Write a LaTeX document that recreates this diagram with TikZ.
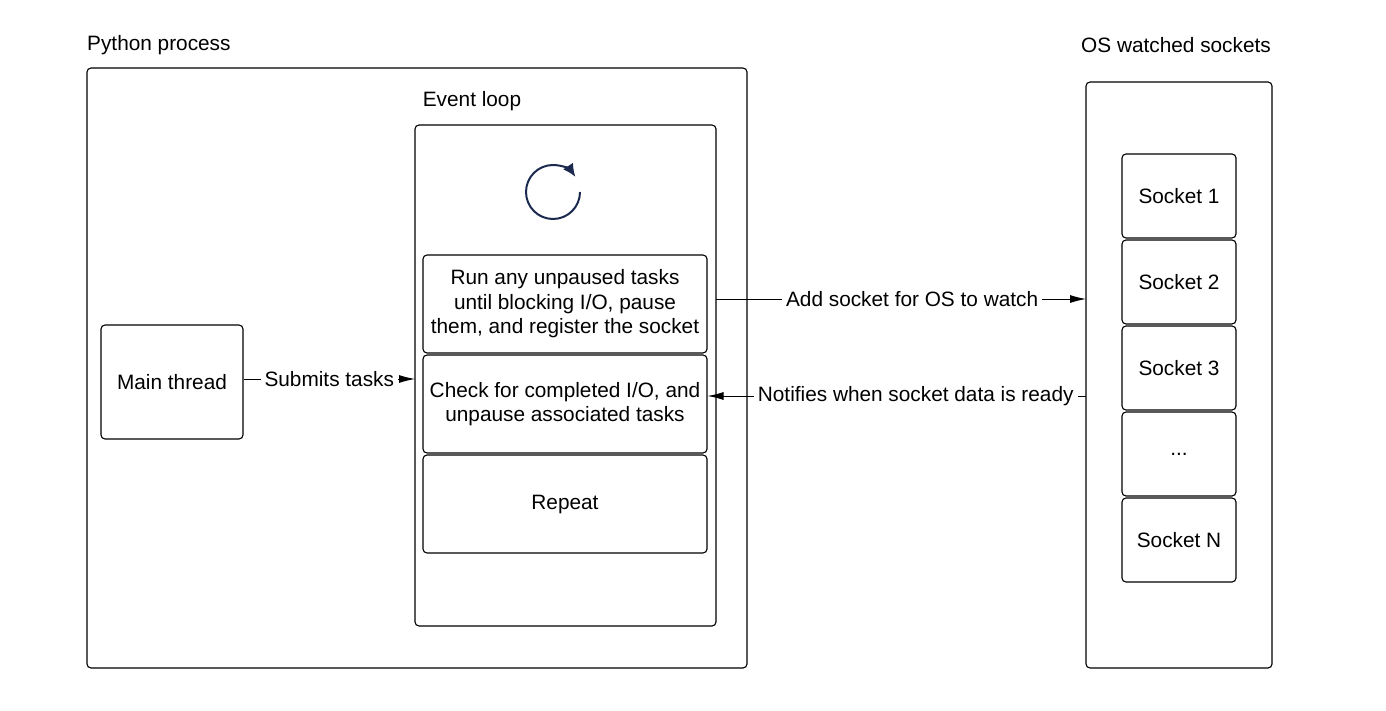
\documentclass[tikz,border=0pt]{standalone}
\usepackage{fontspec}
\setmainfont{Liberation Sans}
\usetikzlibrary{arrows.meta}
\definecolor{navy}{HTML}{1B2A4E}
\begin{document}
\begin{tikzpicture}[x=1pt,y=-1pt,
  every node/.style={font=\fontsize{20.8}{24.5}\selectfont},
  box/.style={draw, line width=1.1pt, rounded corners=4pt, inner sep=0pt},
  lbl/.style={fill=white, inner xsep=4pt, inner ysep=2pt},
  arr/.style={-{Latex[length=16pt,width=8pt]}, line width=0.9pt}]
\useasboundingbox (0,0) rectangle (1386,711);
% outer containers
\draw[box] (87,68) rectangle (747,668);
\node[anchor=west, inner xsep=0pt] (pylbl) at (87,45) {Python process};
\draw[box] (415,125) rectangle (716,626);
\node (evlbl) at (472,101) {Event loop};
\draw[box] (1086,82) rectangle (1272,668);
\node (oslbl) at (1176,45) {OS watched sockets};
% loop icon
\draw[navy, line width=2pt, -{Latex[length=13pt,width=12pt]}] (553,192) ++(0:27) arc[start angle=0, end angle=326, radius=27];
% task boxes
\node[box, minimum width=284pt, minimum height=98pt, align=center] (run) at (565,304) {Run any unpaused tasks\\until blocking I/O, pause\\them, and register the socket};
\node[box, minimum width=284pt, minimum height=98pt, align=center] (check) at (565,404) {Check for completed I/O, and\\unpause associated tasks};
\node[box, minimum width=284pt, minimum height=98pt, align=center] (repeat) at (565,504) {Repeat};
% main thread
\node[box, minimum width=142pt, minimum height=114pt] (main) at (172,382) {Main thread};
% sockets
\foreach \n/\y/\t in {s1/196/{Socket 1}, s2/282/{Socket 2}, s3/368/{Socket 3}, sd/454/{...}, sn/540/{Socket N}}
  \node[box, minimum width=114pt, minimum height=84pt] (\n) at (1179,\y) {\t};
% connectors
\coordinate (evL) at (415,379);
\coordinate (evR) at (716,299);
\coordinate (osL1) at (1086,299);
\coordinate (osL2) at (1086,396);
\draw[arr] (main.east |- evL) -- node[lbl] {Submits tasks} (evL);
\draw[arr] (evR) -- node[lbl, pos=0.53] {Add socket for OS to watch} (osL1);
\draw[arr] (osL2) -- node[lbl, pos=0.45] {Notifies when socket data is ready} (check.east |- osL2);
\end{tikzpicture}
\end{document}
